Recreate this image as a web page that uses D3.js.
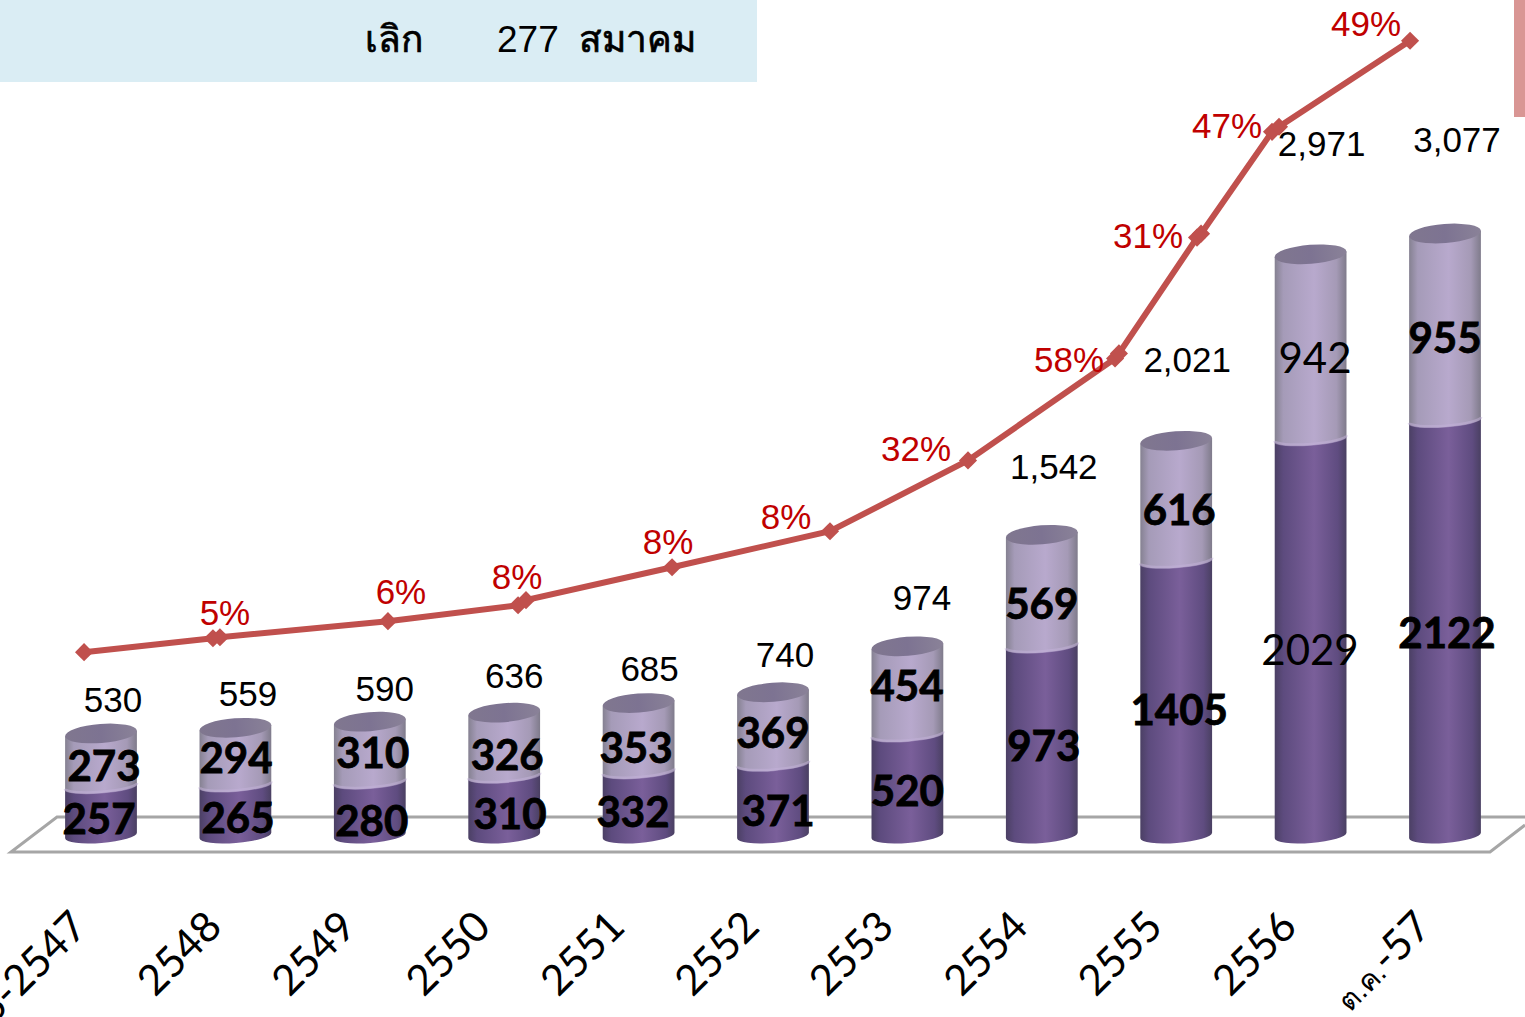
<!DOCTYPE html>
<html>
<head>
<meta charset="utf-8">
<script src="https://cdn.jsdelivr.net/npm/d3@7"></script>
<style>
  html, body { margin: 0; padding: 0; background: #fff; overflow: hidden; }
  svg { display: block; }
</style>
</head>
<body>
<div id="chart"></div>
<script>
// ข้อมูลจากภาพ
const categories = ["2546-2547", "2548", "2549", "2550", "2551", "2552", "2553", "2554", "2555", "2556", "ต.ค.-57"];
const lowerValues = [257, 265, 280, 310, 332, 371, 520, 973, 1405, 2029, 2122];
const upperValues = [273, 294, 310, 326, 353, 369, 454, 569, 616, 942, 955];
const totalLabels = [530, 559, 590, 636, 685, 740, 974, 1542, 2021, 2971, 3077];
const plainLabels = [2029, 942]; // two labels are not bold in the original

// the red line does not follow the bars' categories exactly, some points come in close pairs
const linePosition = [-0.126, 0.833, 0.885, 2.135, 3.103, 3.162, 4.249, 5.424, 6.451, 7.545, 7.574, 8.155, 8.185, 8.713, 8.765, 9.74];
const lineLevel = [944, 1015, 1020, 1102, 1183, 1209, 1377, 1560, 1921, 2440, 2466, 3056, 3076, 3595, 3621, 4059];
const pctLabels = ["5%", "6%", "8%", "8%", "8%", "32%", "58%", "31%", "47%", "49%"];
const pctPoint = [1, 3, 4, 6, 7, 8, 9, 11, 13, 15];

// label nudges, layout only
const lowerDx = [-2, 2.6, 2, 5.8, -5.6, 5, 0, 2, 3, -0.6, 2];
const lowerDy = [6, 5.5, 10, 6, 6, 9, 4, 3, 9.5, 11, 3];
const upperDx = [3, 0.6, 3, 3, -2.6, 0, -0.4, 0, 3, 4.4, 0];
const upperDy = [5, 0, 0, 9, 9, 4, -6, 12.6, 8, 10, 10];
const totalDx = [12, 12.6, 15, 10, 11, 12, 14.6, 12, 11, 11, 12];
const totalDy = [-34, -34, -33, -37, -35, -38, -49, -68, -81, -111, -94];
const pctDx = [12, 13, -1, -4, -44, -52, -46, -49, -45, -44];
const pctDy = [-26, -30, -29, -26, -15, -12, 1, -2, -6, -17];

const width = 1525, height = 1017;
const svg = d3.select("#chart").append("svg").attr("width", width).attr("height", height);

const x = d3.scaleLinear().domain([0, 10]).range([101, 1445]);
const y = d3.scaleLinear().domain([0, 3077]).range([837.5, 233.5]);

// gradients of the cylinders
const defs = svg.append("defs");
function addGradient(id, stops) {
    const g = defs.append("linearGradient").attr("id", id);
    stops.forEach(s => g.append("stop").attr("offset", s[0]).attr("stop-color", s[1]));
}
addGradient("darkBody", [[0, "#4b4064"], [0.12, "#5d4b7e"], [0.55, "#7a5f9a"], [0.88, "#5f4c80"], [1, "#4a4062"]]);
addGradient("lightBody", [[0, "#858191"], [0.12, "#a59bb8"], [0.55, "#b8a9cd"], [0.86, "#a59ab6"], [1, "#7f7b8b"]]);
addGradient("topFace", [[0, "#80778f"], [0.5, "#7d7392"], [1, "#8a8298"]]);

// header band and the sliver on the right
svg.append("rect").attr("x", 0).attr("y", 0).attr("width", 757).attr("height", 82).attr("fill", "#daedf4");
svg.append("rect").attr("x", 1514).attr("y", 0).attr("width", 11).attr("height", 117).attr("fill", "#d99694");

const headerFont = "'Liberation Sans', 'Noto Sans', sans-serif";
[["เลิก", 365, true], ["277", 497, false], ["สมาคม", 579, true]].forEach(h => {
    svg.append("text").attr("x", h[1]).attr("y", 52)
        .style("font-family", headerFont).style("font-size", "37px").style("fill", "#000")
        .style("stroke", h[2] ? "#000" : "none").style("stroke-width", 0.7)
        .text(h[0]);
});

// floor of the 3D chart
svg.append("path")
    .attr("d", "M1525,817 L57,817 L11,852 L1490,852 L1525,825")
    .attr("fill", "none").attr("stroke", "#a6a6a6").attr("stroke-width", 3);

// cylinder pieces
const rx = 36, tiltDeg = -4.5, baseLift = 2;
const ex = rx * Math.cos(tiltDeg * Math.PI / 180), ey = rx * Math.sin(tiltDeg * Math.PI / 180);

function bodyPath(cx, yTop, yBottom, ryBottom) {
    return `M${cx - ex},${yTop - ey} L${cx - ex},${yBottom - ey}`
        + ` A${rx},${ryBottom} ${tiltDeg} 0 0 ${cx + ex},${yBottom + ey}`
        + ` L${cx + ex},${yTop + ey} Z`;
}
function lowerArc(cx, yc, ry) {
    return `M${cx - ex},${yc - ey} A${rx},${ry} ${tiltDeg} 0 0 ${cx + ex},${yc + ey}`;
}

const bars = svg.append("g").selectAll("g")
    .data(categories.map((c, i) => i))
    .enter().append("g");

bars.append("path")
    .attr("d", i => bodyPath(x(i), y(lowerValues[i]), y(0) - baseLift, 7.5))
    .attr("fill", "url(#darkBody)");
bars.append("path")
    .attr("d", i => bodyPath(x(i), y(totalLabels[i]), y(lowerValues[i]), 6))
    .attr("fill", "url(#lightBody)");
bars.append("path")
    .attr("d", i => lowerArc(x(i), y(lowerValues[i]) - 1, 6))
    .attr("fill", "none").attr("stroke", "#c4b2da").attr("stroke-width", 3).attr("opacity", 0.5);
bars.append("ellipse")
    .attr("transform", i => `translate(${x(i)},${y(totalLabels[i])}) rotate(${tiltDeg})`)
    .attr("rx", rx).attr("ry", 9.5)
    .attr("fill", "url(#topFace)");

// the red line
const linePoints = linePosition.map((p, i) => [x(p), y(lineLevel[i])]);
svg.append("path")
    .attr("d", d3.line()(linePoints))
    .attr("fill", "none").attr("stroke", "#c0504d").attr("stroke-width", 6);
svg.append("g").selectAll("path")
    .data(linePoints)
    .enter().append("path")
    .attr("d", d3.symbol(d3.symbolDiamond2, 210))
    .attr("transform", d => `translate(${d[0]},${d[1]})`)
    .attr("fill", "#c0504d");

// percent labels
svg.append("g").selectAll("text")
    .data(pctLabels)
    .enter().append("text")
    .attr("x", (d, i) => linePoints[pctPoint[i]][0] + pctDx[i])
    .attr("y", (d, i) => linePoints[pctPoint[i]][1] + pctDy[i])
    .attr("text-anchor", "middle").attr("dominant-baseline", "central")
    .style("font-family", "'Liberation Sans', sans-serif").style("font-size", "35px").style("fill", "#c00000")
    .text(d => d);

// totals above the cylinders
svg.append("g").selectAll("text")
    .data(totalLabels)
    .enter().append("text")
    .attr("x", (d, i) => x(i) + totalDx[i])
    .attr("y", (d, i) => y(d) + totalDy[i])
    .attr("text-anchor", "middle").attr("dominant-baseline", "central")
    .style("font-family", "'Liberation Sans', sans-serif").style("font-size", "35px").style("fill", "#000")
    .text(d => d3.format(",")(d));

// values inside the cylinders
function segmentLabels(values, midValue, dx, dy) {
    svg.append("g").selectAll("text")
        .data(values)
        .enter().append("text")
        .attr("x", (d, i) => x(i) + dx[i])
        .attr("y", (d, i) => y(midValue(d, i)) + dy[i])
        .attr("text-anchor", "middle").attr("dominant-baseline", "central")
        .style("font-family", "Lato, 'Open Sans', sans-serif").style("font-size", "42px")
        .style("font-weight", d => plainLabels.includes(d) ? 400 : 700)
        .style("stroke", d => plainLabels.includes(d) ? "none" : "#000").style("stroke-width", 0.8)
        .style("fill", "#000")
        .text(d => d);
}
segmentLabels(lowerValues, d => d / 2, lowerDx, lowerDy);
segmentLabels(upperValues, (d, i) => lowerValues[i] + d / 2, upperDx, upperDy);

// category axis, rotated labels
const axis = svg.append("g")
    .attr("transform", "translate(0,905)")
    .call(d3.axisBottom(x).tickValues(d3.range(categories.length)).tickFormat(i => categories[i]).tickSize(0));
axis.select(".domain").remove();
axis.selectAll("text")
    .attr("dy", null).attr("y", 0)
    .attr("text-anchor", "end")
    .attr("transform", "translate(-12,24) rotate(-45)")
    .style("font-family", "Lato, 'Open Sans', sans-serif").style("font-size", "42px").style("fill", "#000")
    .each(function(i) {
        // the Thai part of the last label is smaller
        const m = categories[i].match(/^([^\d-]+)(-\d+)$/);
        if (!m) return;
        const t = d3.select(this).text("");
        t.append("tspan").style("font-size", "29px").style("font-family", headerFont).text(m[1]);
        t.append("tspan").text(m[2]);
    });
</script>
</body>
</html>
